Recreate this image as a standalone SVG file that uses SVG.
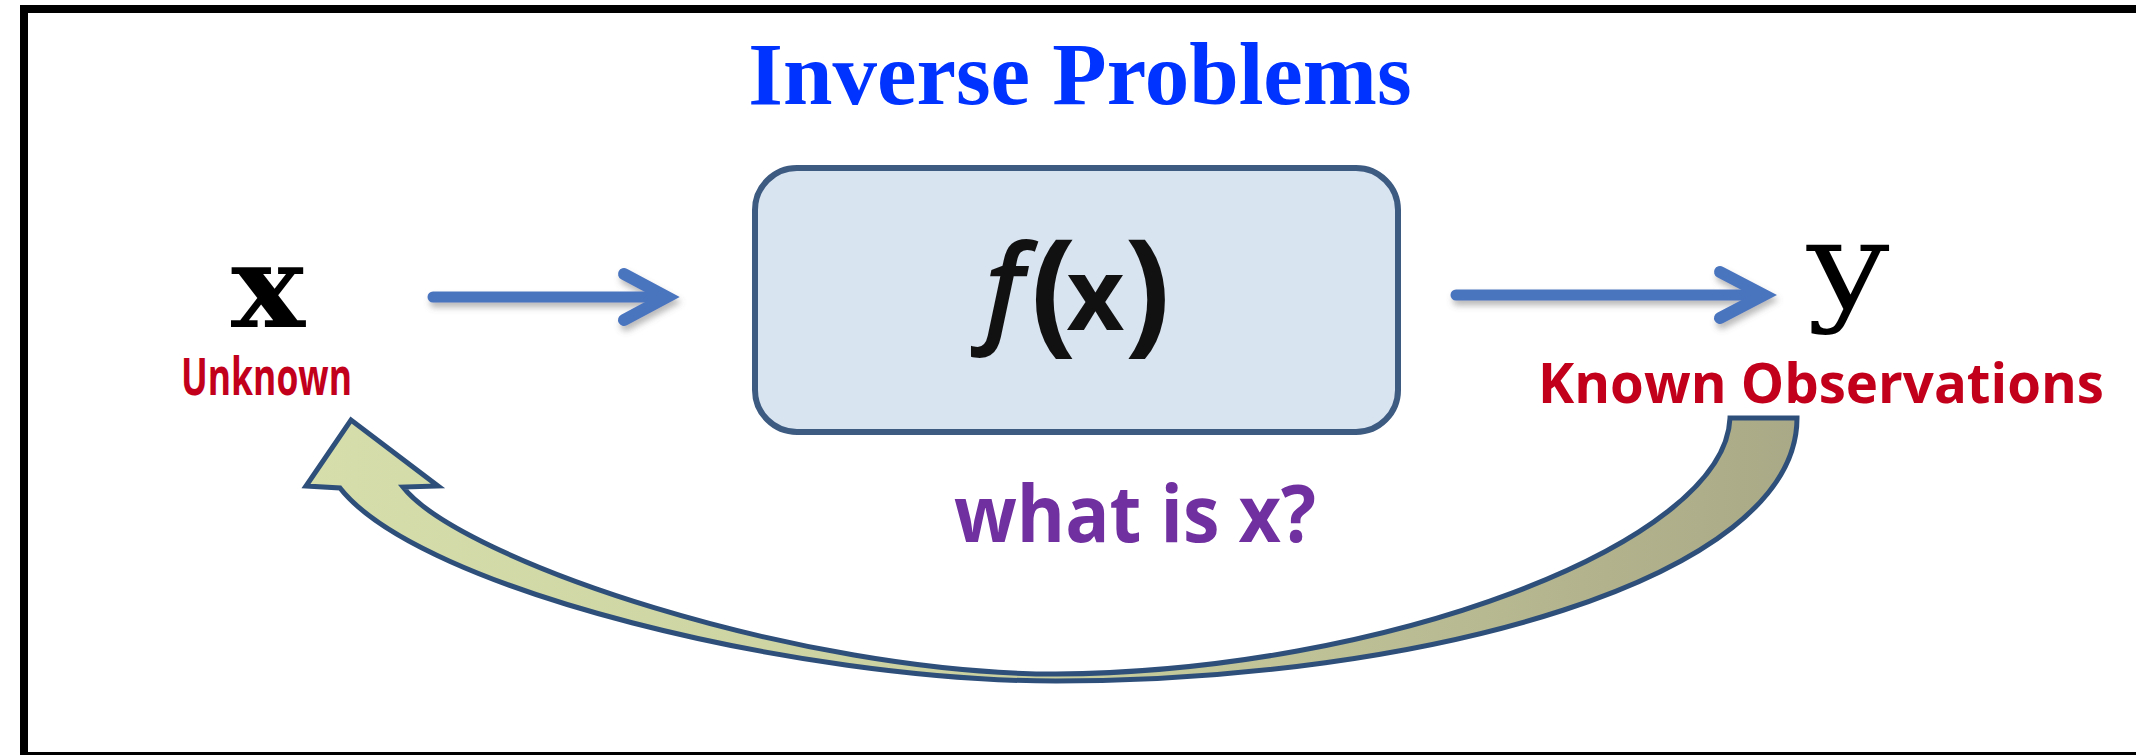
<svg xmlns="http://www.w3.org/2000/svg" width="2136" height="755" viewBox="0 0 2136 755">
<defs>
<style>
.lbl{font-family:"Open Sans","Liberation Sans",sans-serif;font-weight:bold}
.red{fill:#c3001c}
.math{font-family:"DejaVu Serif","Liberation Serif",serif;fill:#000}
.blue{stroke:#4a74bf;fill:none;stroke-linecap:round}
.fx{font-family:"Open Sans","Liberation Sans",sans-serif;font-weight:bold;fill:#111}
</style>
<linearGradient id="band" gradientUnits="userSpaceOnUse" x1="300" y1="0" x2="1800" y2="0">
<stop offset="0" stop-color="#d6deac"/>
<stop offset="0.5" stop-color="#c9cf9e"/>
<stop offset="1" stop-color="#aaa987"/>
</linearGradient>
<filter id="sh" x="-10%" y="-50%" width="120%" height="200%">
<feDropShadow dx="2" dy="5" stdDeviation="3" flood-color="#666" flood-opacity="0.45"/>
</filter>
</defs>
<rect x="0" y="0" width="2136" height="755" fill="#fff"/>
<rect x="24" y="9" width="2200" height="747" fill="none" stroke="#000" stroke-width="8"/>

<g id="title">
<text x="1080" y="104" text-anchor="middle" font-family="Liberation Serif, serif" font-weight="bold" font-size="89" fill="#0033ff">Inverse Problems</text>
</g>

<g id="connectors">
<g filter="url(#sh)">
<line class="blue" x1="433" y1="297" x2="664" y2="297" stroke-width="11"/>
<polyline class="blue" points="624,274 667,297 624,320" stroke-width="12" stroke-linejoin="miter"/>
<line class="blue" x1="1456" y1="295" x2="1760" y2="295" stroke-width="11"/>
<polyline class="blue" points="1720,272 1764,295 1720,318" stroke-width="12" stroke-linejoin="miter"/>
</g>
<path id="inverse-arrow" d="M1730,418 L1797,418 C1797,580 1420,681 1056,681 C800,681 420,590 340,488 L306,486 L351,420 L438,486 L403,487 C460,560 800,674 1056,674 C1380,672 1725,545 1730,418 Z" fill="url(#band)" stroke="#2e4f7a" stroke-width="5" stroke-linejoin="miter"/>
</g>

<g id="node-x">
<text class="math" transform="translate(268,327) scale(1.08,1)" text-anchor="middle" font-weight="bold" font-size="115">x</text>
<text class="lbl red" x="181" y="395" font-size="52" textLength="171" lengthAdjust="spacingAndGlyphs">Unknown</text>
</g>

<g id="node-f">
<rect x="755" y="168" width="643" height="264" rx="42" fill="#d9e4f1" stroke="#3d5a80" stroke-width="6"/>
<text class="fx" x="984" y="330"><tspan font-style="italic" font-weight="600" font-size="118">f</tspan><tspan font-size="136" dx="6" dy="7">(</tspan><tspan font-size="100" dx="-10" dy="-7">x</tspan><tspan font-size="136" dy="7">)</tspan></text>
</g>

<g id="node-y">
<text class="math" transform="translate(1848,308) scale(1.2,1)" text-anchor="middle" font-size="122">y</text>
<text class="lbl red" x="1538" y="403" font-size="56" textLength="566" lengthAdjust="spacingAndGlyphs">Known Observations</text>
</g>

<g id="question">
<text class="lbl" x="954" y="542" font-size="78" fill="#7030a0" textLength="362" lengthAdjust="spacingAndGlyphs">what is x?</text>
</g>
</svg>
